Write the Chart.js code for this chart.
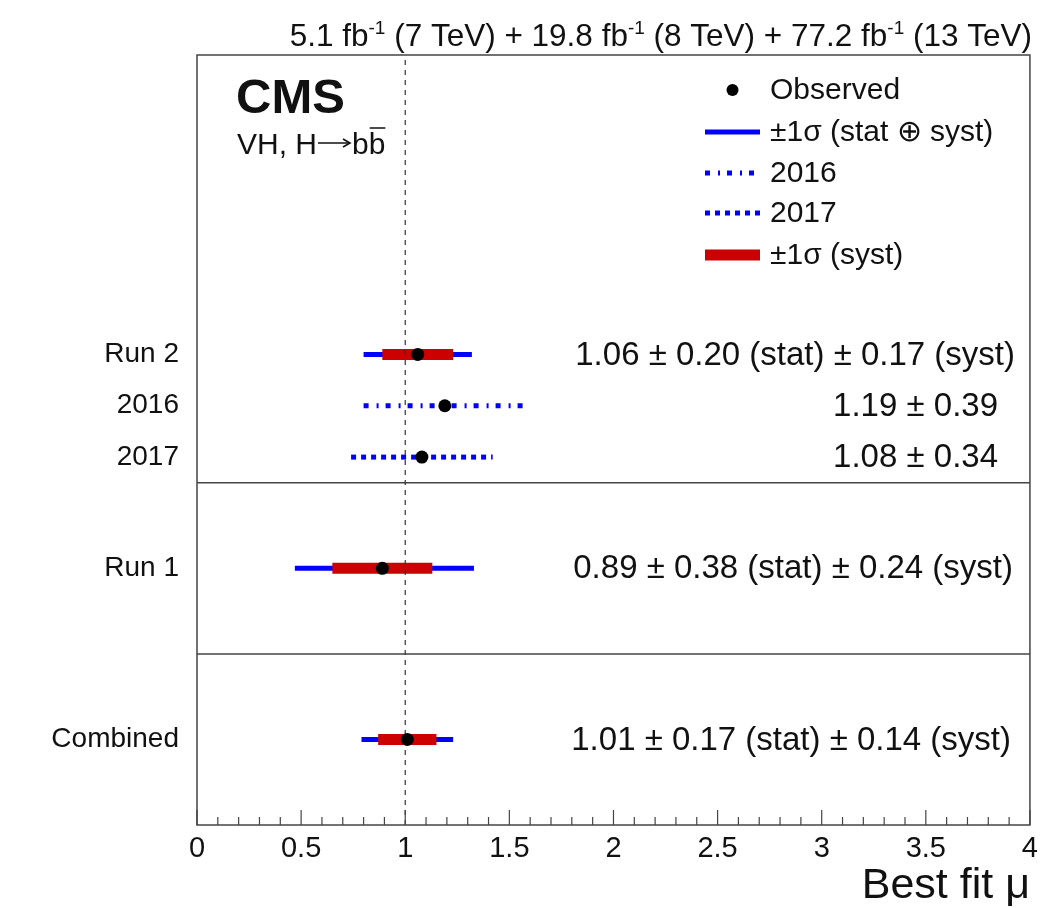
<!DOCTYPE html>
<html>
<head>
<meta charset="utf-8">
<script src="https://cdn.jsdelivr.net/npm/chart.js@4/dist/chart.umd.min.js"></script>
<style>
  html,body{margin:0;background:#fff}
</style>
</head>
<body>
<canvas id="c" width="1045" height="908"></canvas>
<script>
// rows, top to bottom
const rowLabels = ['Run 2', '2016', '2017', 'Run 1', 'Combined'];
const rowPos    = [5.5, 4.9, 4.3, 3.0, 1.0];
const muFit     = [1.06, 1.19, 1.08, 0.89, 1.01];
const errStat   = [0.20, null, null, 0.38, 0.17];
const errSyst   = [0.17, null, null, 0.24, 0.14];
const totLo     = [0.26, 0.39, 0.34, 0.42, 0.22];   // stat (+) syst
const totHi     = [0.26, 0.39, 0.34, 0.44, 0.22];
const totTotal  = [null, 0.39, 0.34, null, null];   // quoted total only
const separators = [2, 4];
const refMu = 1;
const lumis = [5.1, 19.8, 77.2];
const energies = [7, 8, 13];

const FF = '"Liberation Sans", Arial, Helvetica, sans-serif';
const BLUE = '#0000ff', RED = '#cc0000', INK = '#111';
const rowDash = [[], [5, 8, 2, 7], [5, 5], [], []];

const datasets = [];
// observed points (on top)
datasets.push({
  data: muFit.map((m, i) => ({ x: m, y: rowPos[i] })),
  pointRadius: 6.5, pointBackgroundColor: '#000', pointBorderWidth: 0,
  showLine: false, order: 0
});
// mu = 1 reference
datasets.push({
  data: [{ x: refMu, y: 0 }, { x: refMu, y: 9 }],
  showLine: true, borderColor: '#333', borderWidth: 1.2, borderDash: [5, 5],
  pointRadius: 0, order: 1
});
// syst bands
muFit.forEach((m, i) => {
  if (errSyst[i] == null) return;
  datasets.push({
    data: [{ x: m - errSyst[i], y: rowPos[i] }, { x: m + errSyst[i], y: rowPos[i] }],
    showLine: true, borderColor: RED, borderWidth: 11, pointRadius: 0, order: 2
  });
});
// total bars
muFit.forEach((m, i) => {
  datasets.push({
    data: [{ x: m - totLo[i], y: rowPos[i] }, { x: m + totHi[i], y: rowPos[i] }],
    showLine: true, borderColor: BLUE, borderWidth: 5, borderDash: rowDash[i],
    pointRadius: 0, order: 3
  });
});
// separators between groups
separators.forEach(s => {
  datasets.push({
    data: [{ x: 0, y: s }, { x: 4, y: s }],
    showLine: true, borderColor: '#444', borderWidth: 1.5, pointRadius: 0, order: 4
  });
});

function resultText(i) {
  if (totTotal[i] != null) return muFit[i].toFixed(2) + ' \u00b1 ' + totTotal[i].toFixed(2);
  return muFit[i].toFixed(2) + ' \u00b1 ' + errStat[i].toFixed(2) + ' (stat) \u00b1 ' + errSyst[i].toFixed(2) + ' (syst)';
}

const overlay = {
  id: 'overlay',
  afterDraw(chart) {
    const { ctx, chartArea: a, scales: { x, y } } = chart;
    ctx.save();
    // frame
    ctx.strokeStyle = '#444'; ctx.lineWidth = 1.5;
    ctx.strokeRect(a.left, a.top, a.right - a.left, a.bottom - a.top);
    // inward ticks on x
    ctx.lineWidth = 1.2;
    x.ticks.forEach(t => {
      const px = x.getPixelForValue(t.value);
      const major = Math.abs(t.value * 2 - Math.round(t.value * 2)) < 1e-6;
      ctx.beginPath(); ctx.moveTo(px, a.bottom); ctx.lineTo(px, a.bottom - (major ? 15 : 8)); ctx.stroke();
    });

    ctx.fillStyle = INK;
    // results on the right
    const rightEdge = [1015, 998, 998, 1013, 1011];
    ctx.font = '33px ' + FF; ctx.textAlign = 'right'; ctx.textBaseline = 'middle';
    rowLabels.forEach((l, i) => ctx.fillText(resultText(i), rightEdge[i], y.getPixelForValue(rowPos[i]) + 1));

    // lumi label
    const segs = [];
    lumis.forEach((l, i) => {
      segs.push({ t: (i ? ' + ' : '') + l + ' fb' }, { t: '-1', sup: true }, { t: ' (' + energies[i] + ' TeV)' });
    });
    const size = 31.5, sup = 19;
    let w = 0;
    segs.forEach(s => { ctx.font = (s.sup ? sup : size) + 'px ' + FF; w += ctx.measureText(s.t).width; });
    let xx = 1032 - w;
    ctx.textAlign = 'left'; ctx.textBaseline = 'alphabetic';
    segs.forEach(s => {
      ctx.font = (s.sup ? sup : size) + 'px ' + FF;
      ctx.fillText(s.t, xx, s.sup ? 34 : 46);
      xx += ctx.measureText(s.t).width;
    });

    // CMS label
    ctx.font = 'bold 49px ' + FF;
    ctx.fillText('CMS', 236, 113);
    ctx.font = '30px ' + FF;
    let tx = 237;
    const part1 = 'VH, H';
    ctx.fillText(part1, tx, 154);
    tx += ctx.measureText(part1).width;
    // long thin arrow
    ctx.strokeStyle = INK; ctx.lineWidth = 1.6;
    const ax0 = tx + 1, ax1 = tx + 33, ay = 143;
    ctx.beginPath(); ctx.moveTo(ax0, ay); ctx.lineTo(ax1, ay); ctx.stroke();
    ctx.beginPath(); ctx.moveTo(ax1 - 7, ay - 4); ctx.lineTo(ax1, ay); ctx.lineTo(ax1 - 7, ay + 4); ctx.stroke();
    tx = ax1 + 2;
    ctx.fillText('b', tx, 154);
    tx += ctx.measureText('b').width;
    const bw = ctx.measureText('b').width;
    ctx.fillText('b', tx, 154);
    ctx.lineWidth = 1.5;
    ctx.beginPath(); ctx.moveTo(tx + 1, 128); ctx.lineTo(tx + bw, 128); ctx.stroke();

    // legend
    const lx0 = 705, lx1 = 760, ltx = 770;
    const ly = [90, 132, 173, 213, 255];
    const ltext = ['Observed', '\u00b11\u03c3 (stat \u2295 syst)', '2016', '2017', '\u00b11\u03c3 (syst)'];
    ctx.font = '30px ' + FF; ctx.textBaseline = 'middle'; ctx.fillStyle = INK;
    ltext.forEach((t, i) => ctx.fillText(t, ltx, ly[i] + 1));
    ctx.fillStyle = '#000';
    ctx.beginPath(); ctx.arc((lx0 + lx1) / 2, ly[0], 6, 0, Math.PI * 2); ctx.fill();
    const lineRow = (yy, col, wdt, dash) => {
      ctx.strokeStyle = col; ctx.lineWidth = wdt; ctx.setLineDash(dash);
      ctx.beginPath(); ctx.moveTo(lx0, yy); ctx.lineTo(lx1, yy); ctx.stroke();
    };
    lineRow(ly[1], BLUE, 5, []);
    lineRow(ly[2], BLUE, 5, rowDash[1]);
    lineRow(ly[3], BLUE, 5, rowDash[2]);
    lineRow(ly[4], RED, 11, []);
    ctx.restore();
  }
};

new Chart(document.getElementById('c'), {
  type: 'scatter',
  data: { datasets },
  options: {
    responsive: false,
    devicePixelRatio: 1,
    animation: false,
    layout: { padding: { top: 55, right: 13, left: 0, bottom: 0 } },
    plugins: { legend: { display: false }, tooltip: { enabled: false } },
    scales: {
      x: {
        type: 'linear', position: 'bottom', min: 0, max: 4,
        grid: { display: false, drawTicks: false },
        border: { display: false },
        ticks: {
          stepSize: 0.1, autoSkip: false, maxRotation: 0, padding: 7,
          color: INK, font: { family: FF, size: 29 },
          callback: v => Math.abs(v * 2 - Math.round(v * 2)) < 1e-6 ? String(Math.round(v * 10) / 10) : ''
        },
        title: {
          display: true, text: 'Best fit \u03bc', align: 'end', color: INK,
          font: { family: FF, size: 43, lineHeight: 1.0 }, padding: { top: 0, bottom: 0 }
        },
        afterFit(s) { s.height = 83; }
      },
      y: {
        type: 'linear', min: 0, max: 9,
        grid: { display: false, drawTicks: false },
        border: { display: false },
        afterBuildTicks(s) { s.ticks = rowPos.map(v => ({ value: v })); },
        ticks: {
          autoSkip: false, padding: 18, color: INK,
          font: { family: FF, size: 28 },
          callback: v => { const i = rowPos.indexOf(v); return i >= 0 ? rowLabels[i] : ''; }
        },
        afterFit(s) { s.width = 197; }
      }
    }
  },
  plugins: [overlay]
});
</script>
</body>
</html>
